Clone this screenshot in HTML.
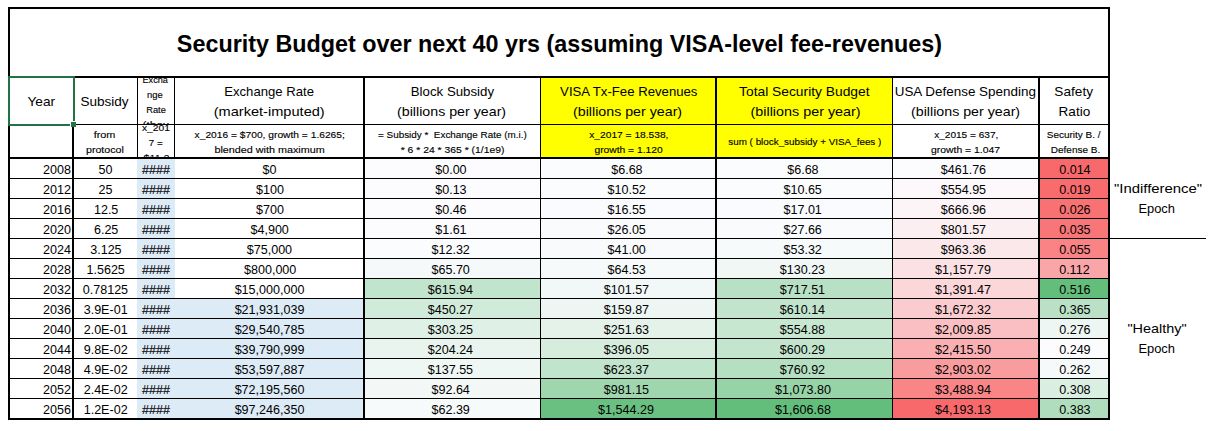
<!DOCTYPE html>
<html><head><meta charset="utf-8"><title>Security Budget</title>
<style>
html,body{margin:0;padding:0;background:#fff;}
body{width:1214px;height:431px;position:relative;overflow:hidden;font-family:"Liberation Sans",sans-serif;color:#000;}
.r{position:absolute;}
.k{background:#000;}
.t{position:absolute;white-space:nowrap;height:20px;line-height:20px;text-align:center;}
.t span{display:inline-block;transform-origin:50% 50%;}
.t.rt{text-align:right;}
.t.rt span{transform-origin:100% 50%;}
.clip{position:absolute;overflow:hidden;}
</style></head><body>

<div class="r" style="left:541px;top:78px;width:174px;height:79px;background:#FFFF00"></div>
<div class="r" style="left:717px;top:78px;width:175px;height:79px;background:#FFFF00"></div>
<div class="r" style="left:137px;top:159px;width:38px;height:20px;background:#DDEBF7"></div>
<div class="r" style="left:365px;top:159px;width:175px;height:20px;background:#FCFCFF"></div>
<div class="r" style="left:541px;top:159px;width:174px;height:20px;background:#FBFCFE"></div>
<div class="r" style="left:717px;top:159px;width:175px;height:20px;background:#FBFCFE"></div>
<div class="r" style="left:893px;top:159px;width:145px;height:20px;background:#FCFCFF"></div>
<div class="r" style="left:1040px;top:159px;width:68px;height:20px;background:#F8696B"></div>
<div class="r" style="left:137px;top:179px;width:38px;height:20px;background:#DDEBF7"></div>
<div class="r" style="left:365px;top:179px;width:175px;height:20px;background:#FCFCFF"></div>
<div class="r" style="left:541px;top:179px;width:174px;height:20px;background:#FBFCFE"></div>
<div class="r" style="left:717px;top:179px;width:175px;height:20px;background:#FBFCFE"></div>
<div class="r" style="left:893px;top:179px;width:145px;height:20px;background:#FCF8FB"></div>
<div class="r" style="left:1040px;top:179px;width:68px;height:20px;background:#F86C6E"></div>
<div class="r" style="left:137px;top:199px;width:38px;height:20px;background:#DDEBF7"></div>
<div class="r" style="left:365px;top:199px;width:175px;height:20px;background:#FCFCFF"></div>
<div class="r" style="left:541px;top:199px;width:174px;height:20px;background:#FAFBFE"></div>
<div class="r" style="left:717px;top:199px;width:175px;height:20px;background:#FAFBFE"></div>
<div class="r" style="left:893px;top:199px;width:145px;height:20px;background:#FCF4F7"></div>
<div class="r" style="left:1040px;top:199px;width:68px;height:20px;background:#F87173"></div>
<div class="r" style="left:137px;top:219px;width:38px;height:20px;background:#DDEBF7"></div>
<div class="r" style="left:365px;top:219px;width:175px;height:20px;background:#FCFCFF"></div>
<div class="r" style="left:541px;top:219px;width:174px;height:20px;background:#FAFBFD"></div>
<div class="r" style="left:717px;top:219px;width:175px;height:20px;background:#F9FBFD"></div>
<div class="r" style="left:893px;top:219px;width:145px;height:20px;background:#FCEFF2"></div>
<div class="r" style="left:1040px;top:219px;width:68px;height:20px;background:#F87678"></div>
<div class="r" style="left:137px;top:239px;width:38px;height:20px;background:#DDEBF7"></div>
<div class="r" style="left:365px;top:239px;width:175px;height:20px;background:#FBFCFE"></div>
<div class="r" style="left:541px;top:239px;width:174px;height:20px;background:#F8FAFC"></div>
<div class="r" style="left:717px;top:239px;width:175px;height:20px;background:#F7FAFB"></div>
<div class="r" style="left:893px;top:239px;width:145px;height:20px;background:#FBE8EB"></div>
<div class="r" style="left:1040px;top:239px;width:68px;height:20px;background:#F98385"></div>
<div class="r" style="left:137px;top:259px;width:38px;height:20px;background:#DDEBF7"></div>
<div class="r" style="left:365px;top:259px;width:175px;height:20px;background:#F6F9FA"></div>
<div class="r" style="left:541px;top:259px;width:174px;height:20px;background:#F6FAFA"></div>
<div class="r" style="left:717px;top:259px;width:175px;height:20px;background:#F0F7F4"></div>
<div class="r" style="left:893px;top:259px;width:145px;height:20px;background:#FBE1E3"></div>
<div class="r" style="left:1040px;top:259px;width:68px;height:20px;background:#FAA6A9"></div>
<div class="r" style="left:137px;top:279px;width:38px;height:20px;background:#DDEBF7"></div>
<div class="r" style="left:365px;top:279px;width:175px;height:20px;background:#C1E4CC"></div>
<div class="r" style="left:541px;top:279px;width:174px;height:20px;background:#F2F8F7"></div>
<div class="r" style="left:717px;top:279px;width:175px;height:20px;background:#B8E0C4"></div>
<div class="r" style="left:893px;top:279px;width:145px;height:20px;background:#FBD7DA"></div>
<div class="r" style="left:1040px;top:279px;width:68px;height:20px;background:#63BE7B"></div>
<div class="r" style="left:137px;top:299px;width:226px;height:20px;background:#DDEBF7"></div>
<div class="r" style="left:365px;top:299px;width:175px;height:20px;background:#D1EBDA"></div>
<div class="r" style="left:541px;top:299px;width:174px;height:20px;background:#EDF6F2"></div>
<div class="r" style="left:717px;top:299px;width:175px;height:20px;background:#C2E4CD"></div>
<div class="r" style="left:893px;top:299px;width:145px;height:20px;background:#FBCCCF"></div>
<div class="r" style="left:1040px;top:299px;width:68px;height:20px;background:#BAE1C6"></div>
<div class="r" style="left:137px;top:319px;width:226px;height:20px;background:#DDEBF7"></div>
<div class="r" style="left:365px;top:319px;width:175px;height:20px;background:#DFF0E6"></div>
<div class="r" style="left:541px;top:319px;width:174px;height:20px;background:#E4F2EA"></div>
<div class="r" style="left:717px;top:319px;width:175px;height:20px;background:#C7E7D1"></div>
<div class="r" style="left:893px;top:319px;width:145px;height:20px;background:#FABFC2"></div>
<div class="r" style="left:1040px;top:319px;width:68px;height:20px;background:#EDF6F2"></div>
<div class="r" style="left:137px;top:339px;width:226px;height:20px;background:#DDEBF7"></div>
<div class="r" style="left:365px;top:339px;width:175px;height:20px;background:#E9F4EE"></div>
<div class="r" style="left:541px;top:339px;width:174px;height:20px;background:#D6EDDE"></div>
<div class="r" style="left:717px;top:339px;width:175px;height:20px;background:#C3E5CE"></div>
<div class="r" style="left:893px;top:339px;width:145px;height:20px;background:#FAAFB2"></div>
<div class="r" style="left:1040px;top:339px;width:68px;height:20px;background:#FCFCFF"></div>
<div class="r" style="left:137px;top:359px;width:226px;height:20px;background:#DDEBF7"></div>
<div class="r" style="left:365px;top:359px;width:175px;height:20px;background:#EFF7F4"></div>
<div class="r" style="left:541px;top:359px;width:174px;height:20px;background:#C1E4CC"></div>
<div class="r" style="left:717px;top:359px;width:175px;height:20px;background:#B4DFC0"></div>
<div class="r" style="left:893px;top:359px;width:145px;height:20px;background:#F99C9E"></div>
<div class="r" style="left:1040px;top:359px;width:68px;height:20px;background:#F5F9F9"></div>
<div class="r" style="left:137px;top:379px;width:226px;height:20px;background:#DDEBF7"></div>
<div class="r" style="left:365px;top:379px;width:175px;height:20px;background:#F3F8F7"></div>
<div class="r" style="left:541px;top:379px;width:174px;height:20px;background:#9FD6AE"></div>
<div class="r" style="left:717px;top:379px;width:175px;height:20px;background:#96D3A7"></div>
<div class="r" style="left:893px;top:379px;width:145px;height:20px;background:#F98587"></div>
<div class="r" style="left:1040px;top:379px;width:68px;height:20px;background:#DAEEE2"></div>
<div class="r" style="left:137px;top:399px;width:226px;height:20px;background:#DDEBF7"></div>
<div class="r" style="left:365px;top:399px;width:175px;height:20px;background:#F6FAFA"></div>
<div class="r" style="left:541px;top:399px;width:174px;height:20px;background:#69C080"></div>
<div class="r" style="left:717px;top:399px;width:175px;height:20px;background:#63BE7B"></div>
<div class="r" style="left:893px;top:399px;width:145px;height:20px;background:#F8696B"></div>
<div class="r" style="left:1040px;top:399px;width:68px;height:20px;background:#AFDDBD"></div>
<div class="r" style="left:8px;top:7px;width:1102px;height:2px;background:#000"></div>
<div class="r" style="left:8px;top:418px;width:1102px;height:2px;background:#000"></div>
<div class="r" style="left:8px;top:7px;width:2px;height:413px;background:#000"></div>
<div class="r" style="left:1108px;top:7px;width:2px;height:413px;background:#000"></div>
<div class="r" style="left:8px;top:76px;width:1102px;height:2px;background:#000"></div>
<div class="r" style="left:74px;top:124px;width:1034px;height:1px;background:#000"></div>
<div class="r" style="left:8px;top:157px;width:1102px;height:2px;background:#000"></div>
<div class="r" style="left:10px;top:178px;width:1098px;height:1px;background:#000"></div>
<div class="r" style="left:10px;top:198px;width:1098px;height:1px;background:#000"></div>
<div class="r" style="left:10px;top:218px;width:1098px;height:1px;background:#000"></div>
<div class="r" style="left:10px;top:238px;width:1098px;height:1px;background:#000"></div>
<div class="r" style="left:10px;top:258px;width:1098px;height:1px;background:#000"></div>
<div class="r" style="left:10px;top:278px;width:1098px;height:1px;background:#000"></div>
<div class="r" style="left:10px;top:298px;width:1098px;height:1px;background:#000"></div>
<div class="r" style="left:10px;top:318px;width:1098px;height:1px;background:#000"></div>
<div class="r" style="left:10px;top:338px;width:1098px;height:1px;background:#000"></div>
<div class="r" style="left:10px;top:358px;width:1098px;height:1px;background:#000"></div>
<div class="r" style="left:10px;top:378px;width:1098px;height:1px;background:#000"></div>
<div class="r" style="left:10px;top:398px;width:1098px;height:1px;background:#000"></div>
<div class="r" style="left:363px;top:78px;width:2px;height:340px;background:#000"></div>
<div class="r" style="left:715px;top:78px;width:2px;height:340px;background:#000"></div>
<div class="r" style="left:1038px;top:78px;width:2px;height:340px;background:#000"></div>
<div class="r" style="left:540px;top:78px;width:1px;height:340px;background:#000"></div>
<div class="r" style="left:892px;top:78px;width:1px;height:340px;background:#000"></div>
<div class="r" style="left:137px;top:78px;width:1px;height:79px;background:#000"></div>
<div class="r" style="left:174px;top:78px;width:1px;height:79px;background:#000"></div>
<div class="r" style="left:1110px;top:238px;width:96px;height:1px;background:#000"></div>
<div class="r" style="left:8px;top:76px;width:67px;height:2px;background:#217346"></div>
<div class="r" style="left:8px;top:76px;width:2px;height:50px;background:#217346"></div>
<div class="r" style="left:73px;top:76px;width:2px;height:45px;background:#217346"></div>
<div class="r" style="left:8px;top:124px;width:62px;height:2px;background:#217346"></div>
<div class="r" style="left:70px;top:121px;width:6px;height:6px;background:#fff"></div>
<div class="r" style="left:71px;top:122px;width:5px;height:5px;background:#217346"></div>
<div class="r" style="left:72px;top:127px;width:2px;height:291px;background:#000"></div>
<div class="t" id="title" style="left:59.00px;top:34.28px;width:1000px;font-size:24px;font-weight:bold;"><span style="transform:scaleX(0.9724)">Security Budget over next 40 yrs (assuming VISA-level fee-revenues)</span></div>
<div class="t" id="h_year" style="left:-158.20px;top:92.23px;width:400px;font-size:13.2px;"><span style="transform:scaleX(1.0389)">Year</span></div>
<div class="t" id="h_sub" style="left:-95.90px;top:92.23px;width:400px;font-size:13.2px;"><span style="transform:scaleX(1.0258)">Subsidy</span></div>
<div class="t" id="h_er1" style="left:69.50px;top:82.43px;width:400px;font-size:13.2px;"><span style="transform:scaleX(0.9955)">Exchange Rate</span></div>
<div class="t" id="h_er2" style="left:68.80px;top:102.03px;width:400px;font-size:13.2px;"><span style="transform:scaleX(1.1063)">(market-imputed)</span></div>
<div class="t" id="h_bs1" style="left:252.00px;top:82.33px;width:400px;font-size:13.2px;"><span style="transform:scaleX(1.0060)">Block Subsidy</span></div>
<div class="t" id="h_bs2" style="left:251.30px;top:101.93px;width:400px;font-size:13.2px;"><span style="transform:scaleX(1.0785)">(billions per year)</span></div>
<div class="t" id="h_v1" style="left:428.60px;top:82.33px;width:400px;font-size:13.2px;"><span style="transform:scaleX(0.9985)">VISA Tx-Fee Revenues</span></div>
<div class="t" id="h_v2" style="left:427.70px;top:101.93px;width:400px;font-size:13.2px;"><span style="transform:scaleX(1.0785)">(billions per year)</span></div>
<div class="t" id="h_t1" style="left:604.70px;top:82.33px;width:400px;font-size:13.2px;"><span style="transform:scaleX(1.0465)">Total Security Budget</span></div>
<div class="t" id="h_t2" style="left:605.50px;top:101.93px;width:400px;font-size:13.2px;"><span style="transform:scaleX(1.0893)">(billions per year)</span></div>
<div class="t" id="h_u1" style="left:765.20px;top:82.33px;width:400px;font-size:13.2px;"><span style="transform:scaleX(1.0189)">USA Defense Spending</span></div>
<div class="t" id="h_u2" style="left:765.30px;top:101.93px;width:400px;font-size:13.2px;"><span style="transform:scaleX(1.0785)">(billions per year)</span></div>
<div class="t" id="h_s1" style="left:873.50px;top:82.33px;width:400px;font-size:13.2px;"><span style="transform:scaleX(1.0337)">Safety</span></div>
<div class="t" id="h_s2" style="left:874.50px;top:101.93px;width:400px;font-size:13.2px;"><span style="transform:scaleX(1.0282)">Ratio</span></div>
<div class="t" id="g_from" style="left:-95.40px;top:125.31px;width:400px;font-size:9.5px;-webkit-text-stroke:0.13px #000;"><span style="transform:scaleX(1.1393)">from</span></div>
<div class="t" id="g_prot" style="left:-95.40px;top:140.31px;width:400px;font-size:9.5px;-webkit-text-stroke:0.13px #000;"><span style="transform:scaleX(1.1186)">protocol</span></div>
<div class="t" id="g_er1" style="left:69.50px;top:125.31px;width:400px;font-size:9.5px;-webkit-text-stroke:0.13px #000;"><span style="transform:scaleX(1.0775)">x_2016 = $700, growth = 1.6265;</span></div>
<div class="t" id="g_er2" style="left:69.90px;top:140.31px;width:400px;font-size:9.5px;-webkit-text-stroke:0.13px #000;"><span style="transform:scaleX(1.1346)">blended with maximum</span></div>
<div class="t" id="g_bs1" style="left:252.50px;top:125.31px;width:400px;font-size:9.5px;-webkit-text-stroke:0.13px #000;"><span style="transform:scaleX(1.0414)">= Subsidy * &nbsp;Exchange Rate (m.i.)</span></div>
<div class="t" id="g_bs2" style="left:252.40px;top:140.31px;width:400px;font-size:9.5px;-webkit-text-stroke:0.13px #000;"><span style="transform:scaleX(1.0906)">* 6 * 24 * 365 * (1/1e9)</span></div>
<div class="t" id="g_v1" style="left:429.20px;top:125.31px;width:400px;font-size:9.5px;-webkit-text-stroke:0.13px #000;"><span style="transform:scaleX(1.0746)">x_2017 = 18.538,</span></div>
<div class="t" id="g_v2" style="left:428.30px;top:140.31px;width:400px;font-size:9.5px;-webkit-text-stroke:0.13px #000;"><span style="transform:scaleX(1.0811)">growth = 1.120</span></div>
<div class="t" id="g_t1" style="left:604.30px;top:132.21px;width:400px;font-size:9.5px;-webkit-text-stroke:0.13px #000;"><span style="transform:scaleX(1.0369)">sum ( block_subsidy + VISA_fees )</span></div>
<div class="t" id="g_u1" style="left:766.50px;top:125.31px;width:400px;font-size:9.5px;-webkit-text-stroke:0.13px #000;"><span style="transform:scaleX(1.0611)">x_2015 = 637,</span></div>
<div class="t" id="g_u2" style="left:765.50px;top:140.31px;width:400px;font-size:9.5px;-webkit-text-stroke:0.13px #000;"><span style="transform:scaleX(1.0927)">growth = 1.047</span></div>
<div class="t" id="g_s1" style="left:873.90px;top:125.31px;width:400px;font-size:9.5px;-webkit-text-stroke:0.13px #000;"><span style="transform:scaleX(1.0477)">Security B. /</span></div>
<div class="t" id="g_s2" style="left:875.40px;top:140.31px;width:400px;font-size:9.5px;-webkit-text-stroke:0.13px #000;"><span style="transform:scaleX(1.0531)">Defense B.</span></div>
<div class="clip" style="left:138px;top:78px;width:36px;height:46px"><div class="t" id="n1" style="left:-183.20px;top:-7.99px;width:400px;font-size:9.5px;-webkit-text-stroke:0.13px #000;"><span style="transform:scaleX(0.9621)">Excha</span></div></div>
<div class="clip" style="left:138px;top:78px;width:36px;height:46px"><div class="t" id="n2" style="left:-183.00px;top:7.11px;width:400px;font-size:9.5px;-webkit-text-stroke:0.13px #000;"><span style="transform:scaleX(0.9920)">nge</span></div></div>
<div class="clip" style="left:138px;top:78px;width:36px;height:46px"><div class="t" id="n3" style="left:-182.10px;top:22.11px;width:400px;font-size:9.5px;-webkit-text-stroke:0.13px #000;"><span style="transform:scaleX(0.9753)">Rate</span></div></div>
<div class="clip" style="left:138px;top:78px;width:36px;height:46px"><div class="t" id="n4" style="left:-182.50px;top:37.11px;width:400px;font-size:9.5px;-webkit-text-stroke:0.13px #000;"><span style="transform:scaleX(1.2282)">(thou</span></div></div>
<div class="clip" style="left:138px;top:125px;width:36px;height:32px"><div class="t" id="m1" style="left:-182.00px;top:-6.69px;width:400px;font-size:9.5px;-webkit-text-stroke:0.13px #000;"><span style="transform:scaleX(1.0780)">x_201</span></div></div>
<div class="clip" style="left:138px;top:125px;width:36px;height:32px"><div class="t" id="m2" style="left:-182.00px;top:8.31px;width:400px;font-size:9.5px;-webkit-text-stroke:0.13px #000;"><span style="transform:scaleX(1.0222)">7 =</span></div></div>
<div class="clip" style="left:138px;top:125px;width:36px;height:32px"><div class="t" id="m3" style="left:-181.50px;top:23.01px;width:400px;font-size:9.5px;-webkit-text-stroke:0.13px #000;"><span style="transform:scaleX(1.1244)">$11.2</span></div></div>
<div class="t" id="a1" style="left:958.10px;top:178.93px;width:400px;font-size:13.2px;"><span style="transform:scaleX(1.1287)">&quot;Indifference&quot;</span></div>
<div class="t" id="a2" style="left:957.00px;top:199.23px;width:400px;font-size:13.2px;"><span style="transform:scaleX(0.9782)">Epoch</span></div>
<div class="t" id="a3" style="left:956.70px;top:319.43px;width:400px;font-size:13.2px;"><span style="transform:scaleX(1.0953)">&quot;Healthy&quot;</span></div>
<div class="t" id="a4" style="left:957.00px;top:339.43px;width:400px;font-size:13.2px;"><span style="transform:scaleX(0.9782)">Epoch</span></div>
<div class="t rt" id="d0_0" style="left:-329.20px;top:159.82px;width:400px;font-size:13.5px;"><span style="transform:scaleX(0.9300)">2008</span></div>
<div class="t" id="d0_h" style="left:-44.00px;top:159.82px;width:400px;font-size:13.5px;-webkit-text-stroke:0.13px #000;"><span style="transform:scaleX(0.9300)">####</span></div>
<div class="t" id="d0_1" style="left:-94.30px;top:159.82px;width:400px;font-size:13.5px;"><span style="transform:scaleX(0.9300)">50</span></div>
<div class="t" id="d0_2" style="left:69.70px;top:159.82px;width:400px;font-size:13.5px;"><span style="transform:scaleX(0.9300)">$0</span></div>
<div class="t" id="d0_3" style="left:250.80px;top:159.82px;width:400px;font-size:13.5px;"><span style="transform:scaleX(0.9300)">$0.00</span></div>
<div class="t" id="d0_4" style="left:426.50px;top:159.82px;width:400px;font-size:13.5px;"><span style="transform:scaleX(0.9300)">$6.68</span></div>
<div class="t" id="d0_5" style="left:602.60px;top:159.82px;width:400px;font-size:13.5px;"><span style="transform:scaleX(0.9300)">$6.68</span></div>
<div class="t" id="d0_6" style="left:763.50px;top:159.82px;width:400px;font-size:13.5px;"><span style="transform:scaleX(0.9300)">$461.76</span></div>
<div class="t" id="d0_7" style="left:874.60px;top:159.82px;width:400px;font-size:13.5px;"><span style="transform:scaleX(0.9300)">0.014</span></div>
<div class="t rt" id="d1_0" style="left:-329.20px;top:179.82px;width:400px;font-size:13.5px;"><span style="transform:scaleX(0.9300)">2012</span></div>
<div class="t" id="d1_h" style="left:-44.00px;top:179.82px;width:400px;font-size:13.5px;-webkit-text-stroke:0.13px #000;"><span style="transform:scaleX(0.9300)">####</span></div>
<div class="t" id="d1_1" style="left:-94.30px;top:179.82px;width:400px;font-size:13.5px;"><span style="transform:scaleX(0.9300)">25</span></div>
<div class="t" id="d1_2" style="left:69.70px;top:179.82px;width:400px;font-size:13.5px;"><span style="transform:scaleX(0.9300)">$100</span></div>
<div class="t" id="d1_3" style="left:250.80px;top:179.82px;width:400px;font-size:13.5px;"><span style="transform:scaleX(0.9300)">$0.13</span></div>
<div class="t" id="d1_4" style="left:426.50px;top:179.82px;width:400px;font-size:13.5px;"><span style="transform:scaleX(0.9300)">$10.52</span></div>
<div class="t" id="d1_5" style="left:602.60px;top:179.82px;width:400px;font-size:13.5px;"><span style="transform:scaleX(0.9300)">$10.65</span></div>
<div class="t" id="d1_6" style="left:763.50px;top:179.82px;width:400px;font-size:13.5px;"><span style="transform:scaleX(0.9300)">$554.95</span></div>
<div class="t" id="d1_7" style="left:874.60px;top:179.82px;width:400px;font-size:13.5px;"><span style="transform:scaleX(0.9300)">0.019</span></div>
<div class="t rt" id="d2_0" style="left:-329.20px;top:199.82px;width:400px;font-size:13.5px;"><span style="transform:scaleX(0.9300)">2016</span></div>
<div class="t" id="d2_h" style="left:-44.00px;top:199.82px;width:400px;font-size:13.5px;-webkit-text-stroke:0.13px #000;"><span style="transform:scaleX(0.9300)">####</span></div>
<div class="t" id="d2_1" style="left:-94.30px;top:199.82px;width:400px;font-size:13.5px;"><span style="transform:scaleX(0.9300)">12.5</span></div>
<div class="t" id="d2_2" style="left:69.70px;top:199.82px;width:400px;font-size:13.5px;"><span style="transform:scaleX(0.9300)">$700</span></div>
<div class="t" id="d2_3" style="left:250.80px;top:199.82px;width:400px;font-size:13.5px;"><span style="transform:scaleX(0.9300)">$0.46</span></div>
<div class="t" id="d2_4" style="left:426.50px;top:199.82px;width:400px;font-size:13.5px;"><span style="transform:scaleX(0.9300)">$16.55</span></div>
<div class="t" id="d2_5" style="left:602.60px;top:199.82px;width:400px;font-size:13.5px;"><span style="transform:scaleX(0.9300)">$17.01</span></div>
<div class="t" id="d2_6" style="left:763.50px;top:199.82px;width:400px;font-size:13.5px;"><span style="transform:scaleX(0.9300)">$666.96</span></div>
<div class="t" id="d2_7" style="left:874.60px;top:199.82px;width:400px;font-size:13.5px;"><span style="transform:scaleX(0.9300)">0.026</span></div>
<div class="t rt" id="d3_0" style="left:-329.20px;top:219.82px;width:400px;font-size:13.5px;"><span style="transform:scaleX(0.9300)">2020</span></div>
<div class="t" id="d3_h" style="left:-44.00px;top:219.82px;width:400px;font-size:13.5px;-webkit-text-stroke:0.13px #000;"><span style="transform:scaleX(0.9300)">####</span></div>
<div class="t" id="d3_1" style="left:-94.30px;top:219.82px;width:400px;font-size:13.5px;"><span style="transform:scaleX(0.9300)">6.25</span></div>
<div class="t" id="d3_2" style="left:69.70px;top:219.82px;width:400px;font-size:13.5px;"><span style="transform:scaleX(0.9300)">$4,900</span></div>
<div class="t" id="d3_3" style="left:250.80px;top:219.82px;width:400px;font-size:13.5px;"><span style="transform:scaleX(0.9300)">$1.61</span></div>
<div class="t" id="d3_4" style="left:426.50px;top:219.82px;width:400px;font-size:13.5px;"><span style="transform:scaleX(0.9300)">$26.05</span></div>
<div class="t" id="d3_5" style="left:602.60px;top:219.82px;width:400px;font-size:13.5px;"><span style="transform:scaleX(0.9300)">$27.66</span></div>
<div class="t" id="d3_6" style="left:763.50px;top:219.82px;width:400px;font-size:13.5px;"><span style="transform:scaleX(0.9300)">$801.57</span></div>
<div class="t" id="d3_7" style="left:874.60px;top:219.82px;width:400px;font-size:13.5px;"><span style="transform:scaleX(0.9300)">0.035</span></div>
<div class="t rt" id="d4_0" style="left:-329.20px;top:239.82px;width:400px;font-size:13.5px;"><span style="transform:scaleX(0.9300)">2024</span></div>
<div class="t" id="d4_h" style="left:-44.00px;top:239.82px;width:400px;font-size:13.5px;-webkit-text-stroke:0.13px #000;"><span style="transform:scaleX(0.9300)">####</span></div>
<div class="t" id="d4_1" style="left:-94.30px;top:239.82px;width:400px;font-size:13.5px;"><span style="transform:scaleX(0.9300)">3.125</span></div>
<div class="t" id="d4_2" style="left:69.70px;top:239.82px;width:400px;font-size:13.5px;"><span style="transform:scaleX(0.9300)">$75,000</span></div>
<div class="t" id="d4_3" style="left:250.80px;top:239.82px;width:400px;font-size:13.5px;"><span style="transform:scaleX(0.9300)">$12.32</span></div>
<div class="t" id="d4_4" style="left:426.50px;top:239.82px;width:400px;font-size:13.5px;"><span style="transform:scaleX(0.9300)">$41.00</span></div>
<div class="t" id="d4_5" style="left:602.60px;top:239.82px;width:400px;font-size:13.5px;"><span style="transform:scaleX(0.9300)">$53.32</span></div>
<div class="t" id="d4_6" style="left:763.50px;top:239.82px;width:400px;font-size:13.5px;"><span style="transform:scaleX(0.9300)">$963.36</span></div>
<div class="t" id="d4_7" style="left:874.60px;top:239.82px;width:400px;font-size:13.5px;"><span style="transform:scaleX(0.9300)">0.055</span></div>
<div class="t rt" id="d5_0" style="left:-329.20px;top:259.82px;width:400px;font-size:13.5px;"><span style="transform:scaleX(0.9300)">2028</span></div>
<div class="t" id="d5_h" style="left:-44.00px;top:259.82px;width:400px;font-size:13.5px;-webkit-text-stroke:0.13px #000;"><span style="transform:scaleX(0.9300)">####</span></div>
<div class="t" id="d5_1" style="left:-94.30px;top:259.82px;width:400px;font-size:13.5px;"><span style="transform:scaleX(0.9300)">1.5625</span></div>
<div class="t" id="d5_2" style="left:69.70px;top:259.82px;width:400px;font-size:13.5px;"><span style="transform:scaleX(0.9300)">$800,000</span></div>
<div class="t" id="d5_3" style="left:250.80px;top:259.82px;width:400px;font-size:13.5px;"><span style="transform:scaleX(0.9300)">$65.70</span></div>
<div class="t" id="d5_4" style="left:426.50px;top:259.82px;width:400px;font-size:13.5px;"><span style="transform:scaleX(0.9300)">$64.53</span></div>
<div class="t" id="d5_5" style="left:602.60px;top:259.82px;width:400px;font-size:13.5px;"><span style="transform:scaleX(0.9300)">$130.23</span></div>
<div class="t" id="d5_6" style="left:763.50px;top:259.82px;width:400px;font-size:13.5px;"><span style="transform:scaleX(0.9300)">$1,157.79</span></div>
<div class="t" id="d5_7" style="left:874.60px;top:259.82px;width:400px;font-size:13.5px;"><span style="transform:scaleX(0.9300)">0.112</span></div>
<div class="t rt" id="d6_0" style="left:-329.20px;top:279.82px;width:400px;font-size:13.5px;"><span style="transform:scaleX(0.9300)">2032</span></div>
<div class="t" id="d6_h" style="left:-44.00px;top:279.82px;width:400px;font-size:13.5px;-webkit-text-stroke:0.13px #000;"><span style="transform:scaleX(0.9300)">####</span></div>
<div class="t" id="d6_1" style="left:-94.30px;top:279.82px;width:400px;font-size:13.5px;"><span style="transform:scaleX(0.9300)">0.78125</span></div>
<div class="t" id="d6_2" style="left:69.70px;top:279.82px;width:400px;font-size:13.5px;"><span style="transform:scaleX(0.9300)">$15,000,000</span></div>
<div class="t" id="d6_3" style="left:250.80px;top:279.82px;width:400px;font-size:13.5px;"><span style="transform:scaleX(0.9300)">$615.94</span></div>
<div class="t" id="d6_4" style="left:426.50px;top:279.82px;width:400px;font-size:13.5px;"><span style="transform:scaleX(0.9300)">$101.57</span></div>
<div class="t" id="d6_5" style="left:602.60px;top:279.82px;width:400px;font-size:13.5px;"><span style="transform:scaleX(0.9300)">$717.51</span></div>
<div class="t" id="d6_6" style="left:763.50px;top:279.82px;width:400px;font-size:13.5px;"><span style="transform:scaleX(0.9300)">$1,391.47</span></div>
<div class="t" id="d6_7" style="left:874.60px;top:279.82px;width:400px;font-size:13.5px;"><span style="transform:scaleX(0.9300)">0.516</span></div>
<div class="t rt" id="d7_0" style="left:-329.20px;top:299.82px;width:400px;font-size:13.5px;"><span style="transform:scaleX(0.9300)">2036</span></div>
<div class="t" id="d7_h" style="left:-44.00px;top:299.82px;width:400px;font-size:13.5px;-webkit-text-stroke:0.13px #000;"><span style="transform:scaleX(0.9300)">####</span></div>
<div class="t" id="d7_1" style="left:-94.30px;top:299.82px;width:400px;font-size:13.5px;"><span style="transform:scaleX(0.9300)">3.9E-01</span></div>
<div class="t" id="d7_2" style="left:69.70px;top:299.82px;width:400px;font-size:13.5px;"><span style="transform:scaleX(0.9300)">$21,931,039</span></div>
<div class="t" id="d7_3" style="left:250.80px;top:299.82px;width:400px;font-size:13.5px;"><span style="transform:scaleX(0.9300)">$450.27</span></div>
<div class="t" id="d7_4" style="left:426.50px;top:299.82px;width:400px;font-size:13.5px;"><span style="transform:scaleX(0.9300)">$159.87</span></div>
<div class="t" id="d7_5" style="left:602.60px;top:299.82px;width:400px;font-size:13.5px;"><span style="transform:scaleX(0.9300)">$610.14</span></div>
<div class="t" id="d7_6" style="left:763.50px;top:299.82px;width:400px;font-size:13.5px;"><span style="transform:scaleX(0.9300)">$1,672.32</span></div>
<div class="t" id="d7_7" style="left:874.60px;top:299.82px;width:400px;font-size:13.5px;"><span style="transform:scaleX(0.9300)">0.365</span></div>
<div class="t rt" id="d8_0" style="left:-329.20px;top:319.82px;width:400px;font-size:13.5px;"><span style="transform:scaleX(0.9300)">2040</span></div>
<div class="t" id="d8_h" style="left:-44.00px;top:319.82px;width:400px;font-size:13.5px;-webkit-text-stroke:0.13px #000;"><span style="transform:scaleX(0.9300)">####</span></div>
<div class="t" id="d8_1" style="left:-94.30px;top:319.82px;width:400px;font-size:13.5px;"><span style="transform:scaleX(0.9300)">2.0E-01</span></div>
<div class="t" id="d8_2" style="left:69.70px;top:319.82px;width:400px;font-size:13.5px;"><span style="transform:scaleX(0.9300)">$29,540,785</span></div>
<div class="t" id="d8_3" style="left:250.80px;top:319.82px;width:400px;font-size:13.5px;"><span style="transform:scaleX(0.9300)">$303.25</span></div>
<div class="t" id="d8_4" style="left:426.50px;top:319.82px;width:400px;font-size:13.5px;"><span style="transform:scaleX(0.9300)">$251.63</span></div>
<div class="t" id="d8_5" style="left:602.60px;top:319.82px;width:400px;font-size:13.5px;"><span style="transform:scaleX(0.9300)">$554.88</span></div>
<div class="t" id="d8_6" style="left:763.50px;top:319.82px;width:400px;font-size:13.5px;"><span style="transform:scaleX(0.9300)">$2,009.85</span></div>
<div class="t" id="d8_7" style="left:874.60px;top:319.82px;width:400px;font-size:13.5px;"><span style="transform:scaleX(0.9300)">0.276</span></div>
<div class="t rt" id="d9_0" style="left:-329.20px;top:339.82px;width:400px;font-size:13.5px;"><span style="transform:scaleX(0.9300)">2044</span></div>
<div class="t" id="d9_h" style="left:-44.00px;top:339.82px;width:400px;font-size:13.5px;-webkit-text-stroke:0.13px #000;"><span style="transform:scaleX(0.9300)">####</span></div>
<div class="t" id="d9_1" style="left:-94.30px;top:339.82px;width:400px;font-size:13.5px;"><span style="transform:scaleX(0.9300)">9.8E-02</span></div>
<div class="t" id="d9_2" style="left:69.70px;top:339.82px;width:400px;font-size:13.5px;"><span style="transform:scaleX(0.9300)">$39,790,999</span></div>
<div class="t" id="d9_3" style="left:250.80px;top:339.82px;width:400px;font-size:13.5px;"><span style="transform:scaleX(0.9300)">$204.24</span></div>
<div class="t" id="d9_4" style="left:426.50px;top:339.82px;width:400px;font-size:13.5px;"><span style="transform:scaleX(0.9300)">$396.05</span></div>
<div class="t" id="d9_5" style="left:602.60px;top:339.82px;width:400px;font-size:13.5px;"><span style="transform:scaleX(0.9300)">$600.29</span></div>
<div class="t" id="d9_6" style="left:763.50px;top:339.82px;width:400px;font-size:13.5px;"><span style="transform:scaleX(0.9300)">$2,415.50</span></div>
<div class="t" id="d9_7" style="left:874.60px;top:339.82px;width:400px;font-size:13.5px;"><span style="transform:scaleX(0.9300)">0.249</span></div>
<div class="t rt" id="d10_0" style="left:-329.20px;top:359.82px;width:400px;font-size:13.5px;"><span style="transform:scaleX(0.9300)">2048</span></div>
<div class="t" id="d10_h" style="left:-44.00px;top:359.82px;width:400px;font-size:13.5px;-webkit-text-stroke:0.13px #000;"><span style="transform:scaleX(0.9300)">####</span></div>
<div class="t" id="d10_1" style="left:-94.30px;top:359.82px;width:400px;font-size:13.5px;"><span style="transform:scaleX(0.9300)">4.9E-02</span></div>
<div class="t" id="d10_2" style="left:69.70px;top:359.82px;width:400px;font-size:13.5px;"><span style="transform:scaleX(0.9300)">$53,597,887</span></div>
<div class="t" id="d10_3" style="left:250.80px;top:359.82px;width:400px;font-size:13.5px;"><span style="transform:scaleX(0.9300)">$137.55</span></div>
<div class="t" id="d10_4" style="left:426.50px;top:359.82px;width:400px;font-size:13.5px;"><span style="transform:scaleX(0.9300)">$623.37</span></div>
<div class="t" id="d10_5" style="left:602.60px;top:359.82px;width:400px;font-size:13.5px;"><span style="transform:scaleX(0.9300)">$760.92</span></div>
<div class="t" id="d10_6" style="left:763.50px;top:359.82px;width:400px;font-size:13.5px;"><span style="transform:scaleX(0.9300)">$2,903.02</span></div>
<div class="t" id="d10_7" style="left:874.60px;top:359.82px;width:400px;font-size:13.5px;"><span style="transform:scaleX(0.9300)">0.262</span></div>
<div class="t rt" id="d11_0" style="left:-329.20px;top:379.82px;width:400px;font-size:13.5px;"><span style="transform:scaleX(0.9300)">2052</span></div>
<div class="t" id="d11_h" style="left:-44.00px;top:379.82px;width:400px;font-size:13.5px;-webkit-text-stroke:0.13px #000;"><span style="transform:scaleX(0.9300)">####</span></div>
<div class="t" id="d11_1" style="left:-94.30px;top:379.82px;width:400px;font-size:13.5px;"><span style="transform:scaleX(0.9300)">2.4E-02</span></div>
<div class="t" id="d11_2" style="left:69.70px;top:379.82px;width:400px;font-size:13.5px;"><span style="transform:scaleX(0.9300)">$72,195,560</span></div>
<div class="t" id="d11_3" style="left:250.80px;top:379.82px;width:400px;font-size:13.5px;"><span style="transform:scaleX(0.9300)">$92.64</span></div>
<div class="t" id="d11_4" style="left:426.50px;top:379.82px;width:400px;font-size:13.5px;"><span style="transform:scaleX(0.9300)">$981.15</span></div>
<div class="t" id="d11_5" style="left:602.60px;top:379.82px;width:400px;font-size:13.5px;"><span style="transform:scaleX(0.9300)">$1,073.80</span></div>
<div class="t" id="d11_6" style="left:763.50px;top:379.82px;width:400px;font-size:13.5px;"><span style="transform:scaleX(0.9300)">$3,488.94</span></div>
<div class="t" id="d11_7" style="left:874.60px;top:379.82px;width:400px;font-size:13.5px;"><span style="transform:scaleX(0.9300)">0.308</span></div>
<div class="t rt" id="d12_0" style="left:-329.20px;top:399.82px;width:400px;font-size:13.5px;"><span style="transform:scaleX(0.9300)">2056</span></div>
<div class="t" id="d12_h" style="left:-44.00px;top:399.82px;width:400px;font-size:13.5px;-webkit-text-stroke:0.13px #000;"><span style="transform:scaleX(0.9300)">####</span></div>
<div class="t" id="d12_1" style="left:-94.30px;top:399.82px;width:400px;font-size:13.5px;"><span style="transform:scaleX(0.9300)">1.2E-02</span></div>
<div class="t" id="d12_2" style="left:69.70px;top:399.82px;width:400px;font-size:13.5px;"><span style="transform:scaleX(0.9300)">$97,246,350</span></div>
<div class="t" id="d12_3" style="left:250.80px;top:399.82px;width:400px;font-size:13.5px;"><span style="transform:scaleX(0.9300)">$62.39</span></div>
<div class="t" id="d12_4" style="left:426.50px;top:399.82px;width:400px;font-size:13.5px;"><span style="transform:scaleX(0.9300)">$1,544.29</span></div>
<div class="t" id="d12_5" style="left:602.60px;top:399.82px;width:400px;font-size:13.5px;"><span style="transform:scaleX(0.9300)">$1,606.68</span></div>
<div class="t" id="d12_6" style="left:763.50px;top:399.82px;width:400px;font-size:13.5px;"><span style="transform:scaleX(0.9300)">$4,193.13</span></div>
<div class="t" id="d12_7" style="left:874.60px;top:399.82px;width:400px;font-size:13.5px;"><span style="transform:scaleX(0.9300)">0.383</span></div>
</body></html>
